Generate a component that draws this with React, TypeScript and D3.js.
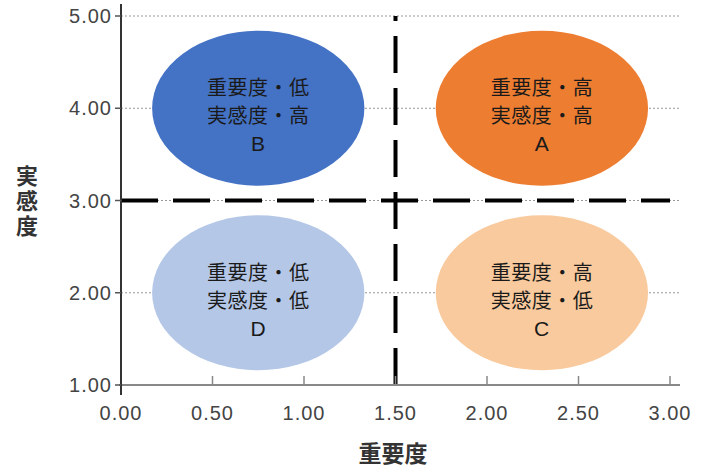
import React from "react";
import * as d3 from "d3";

const yTicks = [1, 2, 3, 4, 5];
const xTicks = [0, 0.5, 1, 1.5, 2, 2.5, 3];
const gridValues = [2, 3, 4, 5];
const quadrantLabels = ["B", "A", "D", "C"];
const quadrantLine1 = ["重要度・低", "重要度・高", "重要度・低", "重要度・高"];
const quadrantLine2 = ["実感度・高", "実感度・高", "実感度・低", "実感度・低"];
const quadrantCx = [0.75, 2.3, 0.75, 2.3];
const quadrantCy = [4, 4, 2, 2];
const quadrantRx = [0.58, 0.58, 0.58, 0.58];
const quadrantRy = [0.84, 0.84, 0.84, 0.84];
const quadrantColors = ["#4472C4", "#ED7D31", "#B4C7E7", "#F9CA9D"];
const thresholdX = 1.5;
const thresholdY = 3;
const xTitle = "重要度";
const yTitle = "実感度";

export default function App() {
  const W = 702, H = 470;
  const x = d3.scaleLinear().domain([0, 3]).range([121, 670]);
  const y = d3.scaleLinear().domain([1, 5]).range([385, 16]);
  const fmt = d3.format(".2f");
  const cjk = "'Noto Sans CJK JP', sans-serif";
  const num = "'Liberation Sans', Arial, sans-serif";

  return (
    <svg width={W} height={H} style={{ position: "absolute", left: 0, top: 0, background: "#fff" }}>
      {gridValues.map((v) => (
        <line key={"g" + v} x1={x(0)} x2={680} y1={y(v)} y2={y(v)} stroke="#999" strokeWidth={1.2} strokeDasharray="2,2" />
      ))}
      {quadrantLabels.map((lab, i) => {
        const cx = x(quadrantCx[i]);
        const cy = y(quadrantCy[i]);
        const rx = x(quadrantRx[i]) - x(0);
        const ry = y(1) - y(1 + quadrantRy[i]);
        return (
          <g key={lab}>
            <ellipse cx={cx} cy={cy} rx={rx} ry={ry} fill={quadrantColors[i]} />
            <text textAnchor="middle" fontFamily={cjk} fontSize={20} letterSpacing={0.5} fill="#1a1a1a">
              <tspan x={cx} y={cy - 13}>{quadrantLine1[i]}</tspan>
              <tspan x={cx} y={cy + 15}>{quadrantLine2[i]}</tspan>
              <tspan x={cx} y={cy + 43} fontFamily={num} fontSize={21}>{lab}</tspan>
            </text>
          </g>
        );
      })}
      <line x1={x(0)} x2={x(3)} y1={y(thresholdY)} y2={y(thresholdY)} stroke="#000" strokeWidth={4} strokeDasharray="37,15" />
      <line x1={x(thresholdX)} x2={x(thresholdX)} y1={y(1)} y2={y(5)} stroke="#000" strokeWidth={4} strokeDasharray="37,15" />
      <line x1={x(0) - 2} x2={680} y1={y(1)} y2={y(1)} stroke="#888" strokeWidth={2} />
      {xTicks.map((t) => (
        <g key={"x" + t}>
          <line x1={x(t)} x2={x(t)} y1={y(1)} y2={y(1) - 9} stroke="#888" strokeWidth={1.5} />
          <text x={x(t)} y={y(1) + 28} textAnchor="middle" dominantBaseline="central" fontFamily={num} fontSize={20} letterSpacing={1} fill="#444">{fmt(t)}</text>
        </g>
      ))}
      <line x1={x(0)} x2={x(0)} y1={4} y2={395} stroke="#333" strokeWidth={2} />
      {yTicks.map((t) => (
        <g key={"y" + t}>
          <line x1={x(0) - 6} x2={x(0)} y1={y(t)} y2={y(t)} stroke="#555" strokeWidth={1.5} />
          <text x={x(0) - 9} y={y(t)} textAnchor="end" dominantBaseline="central" fontFamily={num} fontSize={20} letterSpacing={1} fill="#444">{fmt(t)}</text>
        </g>
      ))}
      <text x={393} y={452} textAnchor="middle" dominantBaseline="central" fontFamily={cjk} fontSize={23} fontWeight={700} fill="#333">{xTitle}</text>
      <text x={27} y={165} style={{ writingMode: "vertical-rl" }} fontFamily={cjk} fontSize={22} fontWeight={700} letterSpacing={3} fill="#333">{yTitle}</text>
    </svg>
  );
}
